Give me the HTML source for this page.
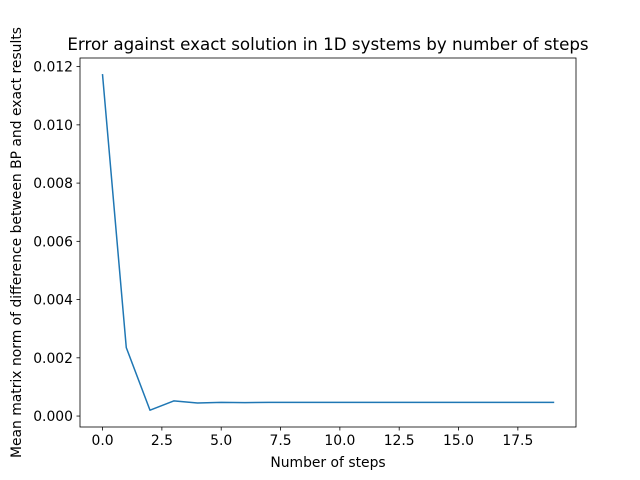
<!DOCTYPE html>
<html><head><meta charset="utf-8"><style>
body{margin:0;background:#fff;}
svg{display:block;font-family:"DejaVu Sans","Liberation Sans",sans-serif;}
</style></head><body>
<svg id="chart" width="640" height="480">
<rect width="640" height="480" fill="#fff"/>
<text x="328" y="50" font-size="16.7" text-anchor="middle">Error against exact solution in 1D systems by number of steps</text>
<g id="plot"></g>
<rect x="80" y="58" width="496" height="369" fill="none" stroke="#000" stroke-width="0.8"/>
<text x="328" y="467" font-size="13.9" text-anchor="middle">Number of steps</text>
<text transform="translate(21,242.5) rotate(-90)" font-size="13.9" text-anchor="middle">Mean matrix norm of difference between BP and exact results</text>
</svg>
<script>
const steps = [0,1,2,3,4,5,6,7,8,9,10,11,12,13,14,15,16,17,18,19];
const errors = [0.01172,0.00235,0.00020,0.00052,0.00045,0.00047,0.00046,0.00047,0.00047,0.00047,0.00047,0.00047,0.00047,0.00047,0.00047,0.00047,0.00047,0.00047,0.00047,0.00047];
const xTicks = [0,2.5,5,7.5,10,12.5,15,17.5];
const xTickLabels = ["0.0","2.5","5.0","7.5","10.0","12.5","15.0","17.5"];
const yTicks = [0,0.002,0.004,0.006,0.008,0.010,0.012];
const yTickLabels = ["0.000","0.002","0.004","0.006","0.008","0.010","0.012"];

const L=80,R=576,T=58,B=427;
const xmin=Math.min(...steps),xmax=Math.max(...steps),xm=(xmax-xmin)*0.05;
const ymin=Math.min(...errors),ymax=Math.max(...errors),ym=(ymax-ymin)*0.05;
const X=v=>L+(v-(xmin-xm))/((xmax+xm)-(xmin-xm))*(R-L);
const Y=v=>B-(v-(ymin-ym))/((ymax+ym)-(ymin-ym))*(B-T);
const NS="http://www.w3.org/2000/svg";
const g=document.getElementById('plot');
function mk(t,a){const e=document.createElementNS(NS,t);for(const k in a)e.setAttribute(k,a[k]);g.appendChild(e);return e;}
xTicks.forEach((v,i)=>{
  const l=mk('line',{x1:X(v),x2:X(v),y1:B,y2:B+3.5,stroke:'#000','stroke-width':0.8});
  
  
  const t=mk('text',{x:X(v),y:B+18,'font-size':13.9,'text-anchor':'middle'});
  t.textContent=xTickLabels[i];
  
  
});
yTicks.forEach((v,i)=>{
  const l=mk('line',{x1:L-3.5,x2:L,y1:Y(v),y2:Y(v),stroke:'#000','stroke-width':0.8});
  
  
  const t=mk('text',{x:L-7,y:Y(v)+5,'font-size':13.9,'text-anchor':'end'});
  t.textContent=yTickLabels[i];
  
  
});
const p=mk('polyline',{points:steps.map((s,i)=>X(s)+','+Y(errors[i])).join(' '),fill:'none',stroke:'#1f77b4','stroke-width':1.5,'stroke-linejoin':'round','stroke-linecap':'square'});


</script>
</body></html>
